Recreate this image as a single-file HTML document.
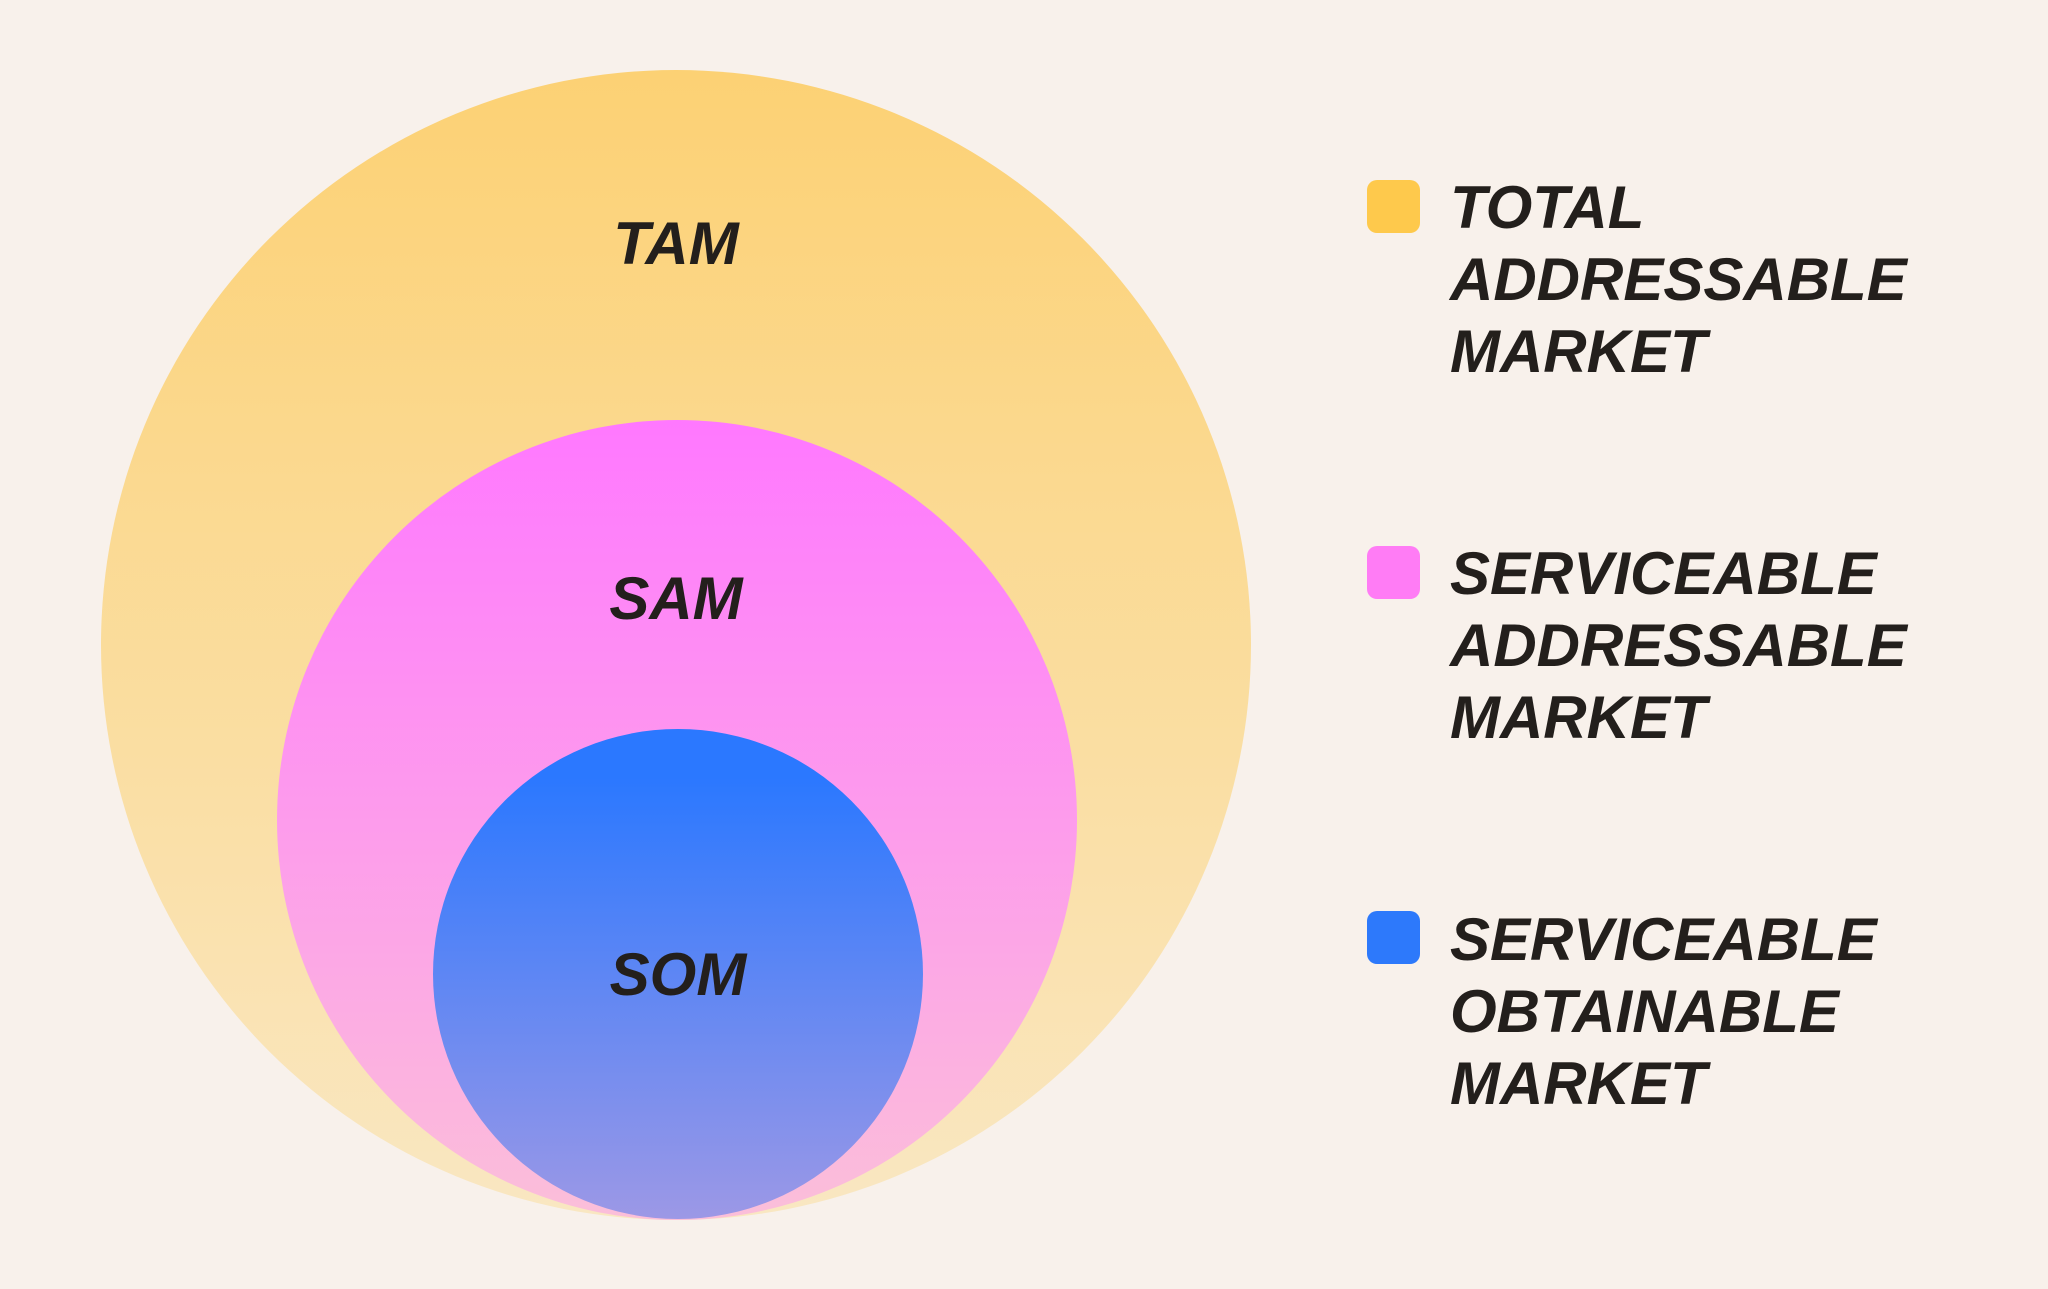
<!DOCTYPE html>
<html><head><meta charset="utf-8"><style>
html,body{margin:0;padding:0;width:2048px;height:1289px;overflow:hidden;background:#f8f1eb;}
svg{display:block}
text{font-family:"Liberation Sans",sans-serif;font-weight:bold;font-style:italic;fill:#231f1c;}
</style></head><body>
<svg width="2048" height="1289" viewBox="0 0 2048 1289" xmlns="http://www.w3.org/2000/svg">
<defs>
<linearGradient id="gt" x1="0" y1="0" x2="0" y2="1"><stop offset="0" stop-color="#fcd174"/><stop offset="1" stop-color="#f9e7c2"/></linearGradient>
<linearGradient id="gs" x1="0" y1="0" x2="0" y2="1"><stop offset="0" stop-color="#ff78ff"/><stop offset="1" stop-color="#fbbfd9"/></linearGradient>
<linearGradient id="go" x1="0" y1="0" x2="0" y2="1"><stop offset="0.1" stop-color="#2b78ff"/><stop offset="1" stop-color="#9c98e6"/></linearGradient>
</defs>
<rect width="2048" height="1289" fill="#f8f1eb"/>
<circle cx="676" cy="645" r="575" fill="url(#gt)"/>
<circle cx="677" cy="820" r="400" fill="url(#gs)"/>
<circle cx="678" cy="974" r="245" fill="url(#go)"/>
<g font-size="60" text-anchor="middle">
<text x="676" y="264">TAM</text>
<text x="676" y="619">SAM</text>
<text x="678" y="995">SOM</text>
</g>
<rect x="1367" y="180" width="53" height="53" rx="10" fill="#fec94c"/>
<rect x="1367" y="546" width="53" height="53" rx="10" fill="#ff7cf5"/>
<rect x="1367" y="911" width="53" height="53" rx="10" fill="#2d79fb"/>
<g font-size="60">
<text x="1450" y="228">TOTAL</text>
<text x="1450" y="300">ADDRESSABLE</text>
<text x="1450" y="372">MARKET</text>
<text x="1450" y="594">SERVICEABLE</text>
<text x="1450" y="666">ADDRESSABLE</text>
<text x="1450" y="738">MARKET</text>
<text x="1450" y="960">SERVICEABLE</text>
<text x="1450" y="1032">OBTAINABLE</text>
<text x="1450" y="1104">MARKET</text>
</g>
</svg>
</body></html>
